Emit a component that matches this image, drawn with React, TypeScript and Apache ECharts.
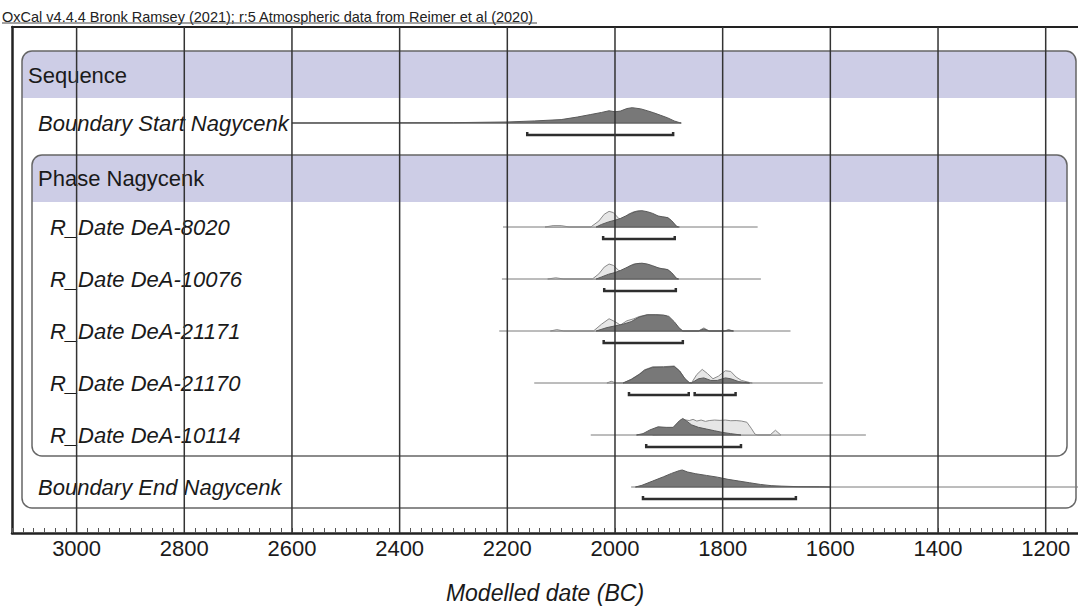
import React, { useEffect, useRef } from "react";
import * as echarts from "echarts";

const FONT = '"Liberation Sans", Arial, Helvetica, sans-serif';

// ---- axis (years BC, drawn inverted: older on the left) ----
const X_LOW = 1140;
const X_HIGH = 3120;
const gridYears = [3000, 2800, 2600, 2400, 2200, 2000, 1800, 1600, 1400, 1200];

// ---- row labels ----
const rowLabels = [
  "Sequence",
  "Boundary Start Nagycenk",
  "Phase Nagycenk",
  "R_Date DeA-8020",
  "R_Date DeA-10076",
  "R_Date DeA-21171",
  "R_Date DeA-21170",
  "R_Date DeA-10114",
  "Boundary End Nagycenk",
];

// ---- distributions: [year BC, relative probability] ----
const startPosterior = [
  [2600, 0], [2300, 0.02], [2200, 0.06], [2150, 0.12], [2100, 0.2], [2070, 0.35], [2045, 0.5],
  [2025, 0.62], [2011, 0.72], [2000, 0.66], [1990, 0.7], [1978, 0.85], [1968, 0.9], [1952, 0.83],
  [1940, 0.72], [1928, 0.6], [1915, 0.45], [1902, 0.3], [1890, 0.12], [1880, 0.02], [1877, 0],
];

const d8020Prior = [
  [2130, 0], [2115, 0.08], [2100, 0.08], [2085, 0], [2045, 0], [2030, 0.35], [2020, 0.75], [2011, 0.92],
  [2003, 0.85], [1993, 0.5], [1985, 0.45], [1975, 0.75], [1965, 0.9], [1955, 0.95], [1945, 0.88],
  [1933, 0.78], [1925, 0.68], [1918, 0.6], [1910, 0.58], [1902, 0.55], [1895, 0.35], [1885, 0.02], [1880, 0],
];
const d8020Posterior = [
  [2035, 0], [2025, 0.15], [2012, 0.3], [2000, 0.4], [1990, 0.5], [1980, 0.65], [1970, 0.8], [1960, 0.92],
  [1950, 0.96], [1940, 0.9], [1930, 0.8], [1920, 0.65], [1912, 0.6], [1902, 0.55], [1895, 0.38], [1886, 0.05], [1882, 0],
];

const d10076Prior = [
  [2125, 0], [2110, 0.07], [2095, 0], [2042, 0], [2030, 0.3], [2020, 0.7], [2011, 0.88], [2003, 0.8],
  [1993, 0.5], [1985, 0.45], [1975, 0.72], [1965, 0.88], [1955, 0.92], [1945, 0.88], [1933, 0.75],
  [1925, 0.68], [1918, 0.62], [1910, 0.6], [1902, 0.55], [1895, 0.35], [1886, 0.03], [1882, 0],
];
const d10076Posterior = [
  [2035, 0], [2025, 0.12], [2012, 0.28], [2000, 0.38], [1990, 0.5], [1980, 0.65], [1970, 0.8], [1960, 0.9],
  [1950, 0.93], [1940, 0.88], [1930, 0.78], [1920, 0.66], [1912, 0.6], [1902, 0.55], [1895, 0.38], [1886, 0.05], [1882, 0],
];

const d21171Prior = [
  [2120, 0], [2108, 0.08], [2095, 0], [2040, 0], [2025, 0.4], [2011, 0.72], [2000, 0.55], [1990, 0.35],
  [1978, 0.6], [1965, 0.72], [1955, 0.85], [1940, 0.96], [1920, 0.96], [1905, 0.91], [1895, 0.6],
  [1882, 0.2], [1874, 0], [1845, 0], [1835, 0.18], [1825, 0], [1797, 0], [1789, 0.08], [1780, 0],
];
const d21171Posterior = [
  [2035, 0], [2015, 0.2], [2000, 0.3], [1985, 0.4], [1970, 0.55], [1955, 0.82], [1940, 0.95], [1925, 0.95],
  [1910, 0.93], [1900, 0.86], [1890, 0.55], [1880, 0.15], [1874, 0], [1845, 0], [1835, 0.12], [1825, 0],
  [1797, 0], [1789, 0.05], [1780, 0],
];

const d21170Prior = [
  [2015, 0], [2007, 0.1], [1998, 0], [1985, 0], [1970, 0.22], [1955, 0.52], [1945, 0.78], [1930, 0.95],
  [1910, 0.96], [1890, 1.0], [1880, 0.72], [1870, 0.25], [1862, 0.02], [1858, 0], [1848, 0.5], [1838, 0.8],
  [1828, 0.55], [1818, 0.25], [1808, 0.4], [1795, 0.72], [1785, 0.68], [1775, 0.35], [1765, 0.15], [1750, 0.03], [1745, 0],
];
const d21170Posterior = [
  [1985, 0], [1970, 0.2], [1955, 0.5], [1945, 0.75], [1930, 0.92], [1910, 0.93], [1890, 0.97], [1880, 0.7],
  [1870, 0.25], [1862, 0.02], [1858, 0], [1845, 0.25], [1835, 0.3], [1822, 0.15], [1810, 0.15], [1795, 0.3],
  [1785, 0.25], [1770, 0.08], [1750, 0],
];

const d10114Prior = [
  [1930, 0], [1900, 0.05], [1888, 0.3], [1878, 0.8], [1872, 0.9], [1862, 0.85], [1855, 0.92], [1848, 0.82],
  [1840, 0.88], [1832, 0.8], [1825, 0.85], [1815, 0.88], [1805, 0.86], [1795, 0.88], [1785, 0.84],
  [1775, 0.85], [1765, 0.82], [1755, 0.75], [1747, 0.4], [1740, 0.05], [1735, 0], [1712, 0], [1702, 0.28], [1692, 0],
];
const d10114Posterior = [
  [1960, 0], [1948, 0.08], [1935, 0.3], [1920, 0.48], [1905, 0.45], [1892, 0.45], [1880, 0.85], [1874, 0.97],
  [1866, 0.8], [1858, 0.6], [1845, 0.45], [1830, 0.35], [1815, 0.25], [1800, 0.15], [1785, 0.08], [1766, 0],
];

const endPosterior = [
  [1962, 0], [1950, 0.1], [1930, 0.35], [1910, 0.6], [1895, 0.8], [1880, 0.97], [1875, 1.0], [1865, 0.88],
  [1850, 0.78], [1830, 0.68], [1810, 0.58], [1790, 0.45], [1770, 0.35], [1750, 0.25], [1730, 0.15],
  [1710, 0.08], [1690, 0.05], [1660, 0.02], [1620, 0.01], [1600, 0],
];

// ---- baselines (range of the plotted line) ----
const baselines = [
  { row: 1, from: 2600, to: 1877 },
  { row: 3, from: 2208, to: 1735 },
  { row: 4, from: 2210, to: 1729 },
  { row: 5, from: 2215, to: 1674 },
  { row: 6, from: 2150, to: 1614 },
  { row: 7, from: 2045, to: 1534 },
  { row: 8, from: 1970, to: 1100 },
];

// ---- 95.4% ranges ----
const ranges = [
  { row: 1, from: 2163, to: 1892 },
  { row: 3, from: 2022, to: 1889 },
  { row: 4, from: 2020, to: 1887 },
  { row: 5, from: 2021, to: 1874 },
  { row: 6, from: 1974, to: 1863 },
  { row: 6, from: 1852, to: 1776 },
  { row: 7, from: 1942, to: 1766 },
  { row: 8, from: 1948, to: 1664 },
];

const priors = [
  { row: 3, pts: d8020Prior },
  { row: 4, pts: d10076Prior },
  { row: 5, pts: d21171Prior },
  { row: 6, pts: d21170Prior },
  { row: 7, pts: d10114Prior },
];
const posteriors = [
  { row: 1, pts: startPosterior },
  { row: 3, pts: d8020Posterior },
  { row: 4, pts: d10076Posterior },
  { row: 5, pts: d21171Posterior },
  { row: 6, pts: d21170Posterior },
  { row: 7, pts: d10114Posterior },
  { row: 8, pts: endPosterior },
];

// ---- layout (pixels) ----
const GRID_TOP = 27;
const GRID_BOTTOM_Y = 533;
const ROW0 = 71;
const ROW_H = 52;
const PEAK_PX = 17;
const Y_MIN = (GRID_TOP - ROW0) / ROW_H;
const Y_MAX = (GRID_BOTTOM_Y - ROW0) / ROW_H;

function distSeries(name: string, list: { row: number; pts: number[][] }[], fill: string, stroke: string, z: number) {
  return {
    type: "custom",
    name,
    z,
    silent: true,
    clip: true,
    data: list.map((d) => [d.pts[0][0], d.row]),
    renderItem: (params: any, api: any) => {
      const d = list[params.dataIndex];
      const points = d.pts.map(([yr, h]) => {
        const p = api.coord([yr, d.row]);
        return [p[0], p[1] - h * PEAK_PX];
      });
      return {
        type: "polygon",
        shape: { points },
        style: { fill, stroke, lineWidth: 1 },
      };
    },
  };
}

export default function App() {
  const ref = useRef<HTMLDivElement>(null);

  useEffect(() => {
    document.body.style.margin = "0";
    if (!ref.current) return;
    const chart = echarts.init(ref.current, null, { renderer: "svg" });

    const labelY = (i: number) => {
      if (i === 0) return 75;
      if (i === 2) return 178;
      return ROW0 + i * ROW_H;
    };
    const labelX = (i: number) => (i === 0 ? 28 : i >= 3 && i <= 7 ? 50 : 38);
    const italic = (i: number) => i !== 0 && i !== 2;

    const option: any = {
      animation: false,
      backgroundColor: "#fff",
      grid: {
        left: 12,
        right: 0,
        top: GRID_TOP,
        bottom: 606 - GRID_BOTTOM_Y,
        show: false,
        containLabel: false,
        outerBoundsMode: "none",
      },
      xAxis: [
        {
          type: "value",
          inverse: true,
          min: X_LOW,
          max: X_HIGH,
          interval: 20,
          position: "bottom",
          name: "Modelled date (BC)",
          nameLocation: "middle",
          nameGap: 48,
          nameTextStyle: { fontFamily: FONT, fontSize: 23, fontStyle: "italic", color: "#1a1a1a" },
          axisLine: { show: true, onZero: false, lineStyle: { color: "#222", width: 2.5 } },
          axisTick: { show: true, inside: true, length: 5, lineStyle: { color: "#555", width: 1 } },
          axisLabel: {
            fontFamily: FONT,
            fontSize: 22,
            color: "#1a1a1a",
            margin: 4,
            formatter: (v: number) => (v % 200 === 0 ? String(v) : ""),
          },
          splitLine: { show: false },
        },
        {
          type: "value",
          inverse: true,
          min: X_LOW,
          max: X_HIGH,
          position: "top",
          axisLine: { show: true, onZero: false, lineStyle: { color: "#222", width: 2 } },
          axisTick: { show: false },
          axisLabel: { show: false },
          splitLine: { show: false },
        },
      ],
      yAxis: {
        type: "value",
        inverse: true,
        min: Y_MIN,
        max: Y_MAX,
        axisLine: { show: true, onZero: false, lineStyle: { color: "#222", width: 2.5 } },
        axisTick: { show: false },
        axisLabel: { show: false },
        splitLine: { show: false },
      },
      graphic: [
        {
          type: "text",
          left: 2,
          top: 9,
          z: 0,
          style: {
            text: "OxCal v4.4.4 Bronk Ramsey (2021); r:5 Atmospheric data from Reimer et al (2020)",
            fontFamily: FONT,
            fontSize: 14.5,
            fill: "#222",
          },
        },
        { type: "line", z: 0, shape: { x1: 2, y1: 23, x2: 537, y2: 23 }, style: { stroke: "#444", lineWidth: 1 } },
        // sequence box
        { type: "rect", z: 0, shape: { x: 22, y: 51, width: 1054, height: 47, r: [10, 10, 0, 0] }, style: { fill: "#cdcde6" } },
        { type: "rect", z: 0, shape: { x: 22, y: 51, width: 1054, height: 457, r: 10 }, style: { fill: "none", stroke: "#666", lineWidth: 1.5 } },
        // phase box
        { type: "rect", z: 0, shape: { x: 32, y: 155, width: 1035, height: 47, r: [10, 10, 0, 0] }, style: { fill: "#cdcde6" } },
        { type: "rect", z: 0, shape: { x: 32, y: 155, width: 1035, height: 301, r: 10 }, style: { fill: "none", stroke: "#666", lineWidth: 1.5 } },
        ...rowLabels.map((t, i) => ({
          type: "text",
          z: 0,
          x: labelX(i),
          y: labelY(i),
          style: {
            text: t,
            fontFamily: FONT,
            fontSize: 22,
            fontStyle: italic(i) ? "italic" : "normal",
            fill: "#1a1a1a",
            verticalAlign: "middle",
            align: "left",
          },
        })),
      ],
      series: [
        {
          type: "custom",
          name: "baselines",
          z: 2,
          silent: true,
          clip: true,
          data: baselines.map((b) => [b.from, b.row]),
          renderItem: (params: any, api: any) => {
            const b = baselines[params.dataIndex];
            const p1 = api.coord([b.from, b.row]);
            const p2 = api.coord([b.to, b.row]);
            return {
              type: "line",
              shape: { x1: p1[0], y1: p1[1], x2: p2[0], y2: p2[1] },
              style: { stroke: "#7a7a7a", lineWidth: 1 },
            };
          },
        },
        distSeries("prior", priors, "#e6e6e6", "#8a8a8a", 3),
        distSeries("posterior", posteriors, "#787878", "#5a5a5a", 4),
        {
          type: "custom",
          name: "ranges",
          z: 5,
          silent: true,
          clip: true,
          data: ranges.map((r) => [r.from, r.row]),
          renderItem: (params: any, api: any) => {
            const r = ranges[params.dataIndex];
            const p1 = api.coord([r.from, r.row]);
            const p2 = api.coord([r.to, r.row]);
            const y = p1[1] + 12;
            return {
              type: "polyline",
              shape: { points: [[p1[0], y - 3], [p1[0], y], [p2[0], y], [p2[0], y - 3]] },
              style: { stroke: "#2e2e2e", lineWidth: 2.5, fill: "none" },
            };
          },
        },
        {
          type: "custom",
          name: "grid",
          z: 6,
          silent: true,
          clip: true,
          data: gridYears.map((g) => [g, 0]),
          renderItem: (params: any, api: any) => {
            const g = gridYears[params.dataIndex];
            const p1 = api.coord([g, Y_MIN]);
            const p2 = api.coord([g, Y_MAX]);
            return {
              type: "line",
              shape: { x1: p1[0], y1: p1[1], x2: p2[0], y2: p2[1] },
              style: { stroke: "#333", lineWidth: 1.5 },
            };
          },
        },
      ],
    };
    chart.setOption(option);
    return () => chart.dispose();
  }, []);

  return <div ref={ref} style={{ width: 1078, height: 606 }} />;
}
